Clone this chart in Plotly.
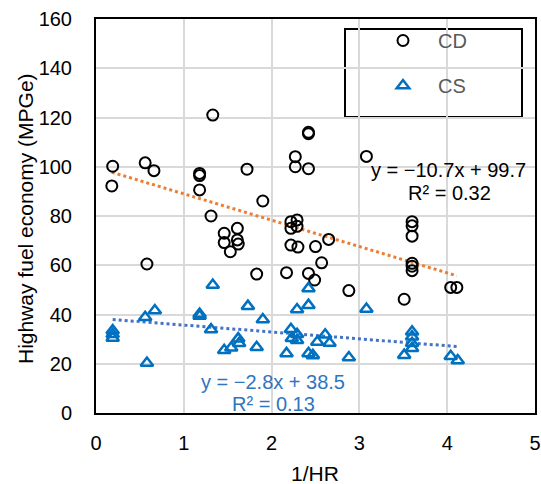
import plotly.graph_objects as go

# ---- data ----
cd_x = [0.19, 0.18, 0.56, 0.66, 0.58, 1.33, 1.18, 1.18, 1.18, 1.31, 1.72, 1.90,
        1.46, 1.61, 1.61, 1.46, 1.62, 1.53, 1.83, 2.17, 2.42, 2.42, 2.27, 2.27,
        2.42, 2.22, 2.29, 2.22, 2.29, 2.22, 2.30, 2.50, 2.42, 2.49, 2.57, 2.65,
        2.88, 3.08, 3.51, 3.60, 3.60, 3.60, 3.60, 3.60, 3.60, 4.04, 4.11]
cd_y = [100.2, 92.2, 101.6, 98.4, 60.5, 121.0, 97.3, 96.4, 90.6, 80.0, 99.0, 86.1,
        73.0, 75.0, 70.3, 69.2, 68.6, 65.5, 56.4, 57.0, 114.0, 113.4, 104.1, 100.0,
        99.2, 77.7, 78.4, 75.0, 75.8, 68.2, 67.4, 67.6, 56.7, 54.0, 61.0, 70.5,
        49.7, 104.2, 46.2, 77.7, 76.0, 71.8, 60.8, 59.6, 57.8, 51.0, 51.0]

cs_x = [0.19, 0.19, 0.19, 0.56, 0.67, 0.58, 1.33, 1.18, 1.18, 1.31, 1.73, 1.90,
        1.46, 1.54, 1.62, 1.63, 1.83, 2.17, 2.22, 2.29, 2.42, 2.42, 2.23, 2.29,
        2.29, 2.42, 2.47, 2.52, 2.61, 2.66, 2.88, 3.08, 3.60, 3.60, 3.60, 3.60,
        3.51, 4.04, 4.12]
cs_y = [33.5, 32.0, 30.5, 38.9, 41.6, 20.3, 52.0, 40.2, 39.4, 33.9, 43.4, 38.0,
        25.5, 26.5, 30.2, 28.3, 26.7, 24.2, 34.0, 42.0, 43.8, 50.6, 30.4, 32.0,
        29.5, 24.2, 23.4, 28.8, 31.8, 28.4, 22.5, 42.2, 33.0, 31.0, 28.3, 26.3,
        23.5, 23.0, 21.3]

cd_fit = (-10.7, 99.7, 0.32)   # slope, intercept, R²
cs_fit = (-2.8, 38.5, 0.13)

x_ticks = [0, 1, 2, 3, 4, 5]
y_ticks = [0, 20, 40, 60, 80, 100, 120, 140, 160]

FONT = "Liberation Sans, Arial, sans-serif"
BLACK = "#000000"
BLUE = "#0070C0"
BLUE_TXT = "#2F75C0"
ORANGE = "#ED7D31"
TREND_BLUE = "#4472C4"

def trend(xs, fit):
    lo, hi = min(xs), max(xs)
    return [lo, hi], [fit[0] * lo + fit[1], fit[0] * hi + fit[1]]

fig = go.Figure()

tx, ty = trend(cd_x, cd_fit)
fig.add_trace(go.Scatter(x=tx, y=ty, mode="lines", showlegend=False,
                         line=dict(color=ORANGE, width=3, dash="dot")))
tx, ty = trend(cs_x, cs_fit)
fig.add_trace(go.Scatter(x=tx, y=ty, mode="lines", showlegend=False,
                         line=dict(color=TREND_BLUE, width=3, dash="dot")))

fig.add_trace(go.Scatter(x=cd_x, y=cd_y, mode="markers", name="CD", legend="legend",
                         marker=dict(symbol="circle-open", size=11, color=BLACK,
                                     line=dict(width=2, color=BLACK))))
fig.add_trace(go.Scatter(x=cs_x, y=cs_y, mode="markers", name="CS", legend="legend2",
                         marker=dict(symbol="triangle-up-open", size=11, color=BLUE,
                                     line=dict(width=2.5, color=BLUE))))

L, R, T, B = 96, 6, 19, 71
W, H = 541, 484
pw, ph = W - L - R, H - T - B

def px_x(p):  # pixel -> paper
    return (p - L) / pw

def px_y(p):
    return (H - B - p) / ph

axis_common = dict(showgrid=True, gridcolor="#D9D9D9", gridwidth=1.5,
                   showline=True, linecolor=BLACK, linewidth=2, mirror=True,
                   zeroline=False, ticks="", automargin=False,
                   tickfont=dict(family=FONT, size=20, color="#000000"))

legend_font = dict(family=FONT, size=20, color="#595959")

fig.update_layout(
    width=W, height=H,
    margin=dict(l=L, r=R, t=T, b=B, autoexpand=False),
    paper_bgcolor="white", plot_bgcolor="white",
    font=dict(family=FONT, size=20, color="#000000"),
    xaxis=dict(range=[0, 5], tickvals=x_ticks, ticklabelstandoff=11, **axis_common),
    yaxis=dict(range=[0, 160], tickvals=y_ticks, ticklabelstandoff=18, **axis_common),
    legend=dict(x=px_x(368), y=px_y(21), xanchor="left", yanchor="top", itemwidth=60,
                bgcolor="rgba(0,0,0,0)", font=legend_font),
    legend2=dict(x=px_x(368), y=px_y(66), xanchor="left", yanchor="top", itemwidth=60,
                 bgcolor="rgba(0,0,0,0)", font=legend_font),
    shapes=[dict(type="rect", xref="paper", yref="paper",
                 x0=px_x(345), x1=px_x(522), y0=px_y(117), y1=px_y(29),
                 line=dict(color=BLACK, width=2), fillcolor="white", layer="below")],
)

ann = []
ann.append(dict(text="Highway fuel economy (MPGe)", xref="paper", yref="paper",
                x=px_x(25), y=px_y(219), textangle=-90, showarrow=False,
                xanchor="center", yanchor="middle", font=dict(family=FONT, size=21, color="#000000")))
ann.append(dict(text="1/HR", xref="paper", yref="paper", x=px_x(315), y=px_y(473),
                showarrow=False, xanchor="center", yanchor="middle",
                font=dict(family=FONT, size=21, color="#000000")))
ann.append(dict(text="y = \u221210.7x + 99.7", xref="paper", yref="paper",
                x=px_x(448), y=px_y(170), showarrow=False, xanchor="center", yanchor="middle",
                font=dict(family=FONT, size=20, color="#000000")))
ann.append(dict(text="R\u00b2 = 0.32", xref="paper", yref="paper",
                x=px_x(449), y=px_y(193), showarrow=False, xanchor="center", yanchor="middle",
                font=dict(family=FONT, size=20, color="#000000")))
ann.append(dict(text="y = \u22122.8x + 38.5", xref="paper", yref="paper",
                x=px_x(273), y=px_y(382), showarrow=False, xanchor="center", yanchor="middle",
                font=dict(family=FONT, size=20, color=BLUE_TXT)))
ann.append(dict(text="R\u00b2 = 0.13", xref="paper", yref="paper",
                x=px_x(273), y=px_y(404), showarrow=False, xanchor="center", yanchor="middle",
                font=dict(family=FONT, size=20, color=BLUE_TXT)))
fig.update_layout(annotations=ann)

fig.write_html("out.html", config={"displayModeBar": False},
               post_script="document.body.style.margin='0';")
